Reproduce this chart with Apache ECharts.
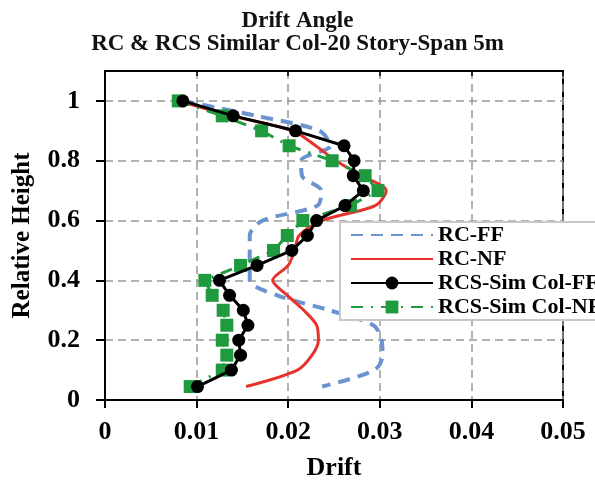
<!DOCTYPE html>
<html>
<head>
<meta charset="utf-8">
<script src="https://cdn.jsdelivr.net/npm/echarts@6/dist/echarts.min.js"></script>
<style>html,body{margin:0;padding:0;background:#fff}#c{width:595px;height:486px}</style>
</head>
<body>
<div id="c"></div>
<script>
const heights = [1.0,0.95,0.9,0.85,0.8,0.75,0.7,0.65,0.6,0.55,0.5,0.45,0.4,0.35,0.3,0.25,0.2,0.15,0.1,0.045];
const rcFF    = [0.0085,0.0165,0.0234,0.0246,0.0214,0.0215,0.0236,0.0232,0.0172,0.0158,0.0158,0.0158,0.0158,0.0188,0.0245,0.0293,0.0302,0.0303,0.0294,0.0237];
const rcNF    = [0.0080,0.0138,0.0205,0.0230,0.0252,0.0280,0.0307,0.0295,0.0237,0.0212,0.0207,0.0200,0.0183,0.0199,0.0217,0.0231,0.0233,0.0226,0.0210,0.0154];
const rcsFF   = [0.0085,0.0140,0.0208,0.0261,0.0272,0.0271,0.0282,0.0262,0.0231,0.0221,0.0204,0.0166,0.0125,0.0136,0.0151,0.0156,0.0146,0.0148,0.0138,0.0101];
const rcsNF   = [0.0080,0.0128,0.0171,0.0201,0.0248,0.0284,0.0298,0.0268,0.0216,0.0199,0.0184,0.0148,0.0109,0.0117,0.0129,0.0133,0.0128,0.0133,0.0128,0.0093];
const seriesNames = ['RC-FF','RC-NF','RCS-Sim Col-FF','RCS-Sim Col-NF'];
const xTickValues = [0,0.01,0.02,0.03,0.04,0.05];
const xTickLabels = ['0','0.01','0.02','0.03','0.04','0.05'];
const yTickValues = [0,0.2,0.4,0.6,0.8,1.0];
const yTickLabels = ['0','0.2','0.4','0.6','0.8','1'];
const titleLines = ['Drift Angle','RC & RCS Similar Col-20 Story-Span 5m'];

const pts = arr => arr.map((x,i)=>[x, heights[i]]);
const serif = 'Liberation Serif, Times New Roman, serif';
const lblX = v => { const i = xTickValues.findIndex(t=>Math.abs(t-v)<1e-9); return i<0?'':xTickLabels[i]; };
const lblY = v => { const i = yTickValues.findIndex(t=>Math.abs(t-v)<1e-9); return i<0?'':yTickLabels[i]; };

const chart = echarts.init(document.getElementById('c'), null, {renderer:'canvas'});
chart.setOption({
  animation:false,
  backgroundColor:'#fff',
  title:{text:titleLines.join('\n'), left:'center', top:5,
    textStyle:{fontFamily:serif, fontWeight:'bold', fontSize:23, lineHeight:23, color:'#111'}},
  grid:{left:105, right:32, top:71, bottom:79, show:true, borderColor:'#000', borderWidth:2, backgroundColor:'transparent'},
  xAxis:[{type:'value', min:0, max:0.05, interval:0.01,
    axisLine:{show:true, lineStyle:{color:'#000', width:2}},
    axisTick:{show:true, length:8, lineStyle:{color:'#000', width:2}},
    splitLine:{show:true, lineStyle:{color:'#999', type:[8,5], width:1.5}},
    axisLabel:{formatter:lblX, fontFamily:serif, fontWeight:'bold', fontSize:26, color:'#000', margin:19},
    name:'Drift', nameLocation:'middle', nameGap:55,
    nameTextStyle:{fontFamily:serif, fontWeight:'bold', fontSize:26, color:'#000'}},
   {type:'value', min:0, max:0.05, interval:0.01, position:'top',
    axisLine:{show:true, lineStyle:{color:'#000', width:2}},
    axisTick:{show:true, inside:true, length:5, lineStyle:{color:'#000', width:1.5}},
    splitLine:{show:false}, axisLabel:{show:false}}],
  yAxis:[{type:'value', min:0, max:1.1, interval:0.2,
    axisLine:{show:true, lineStyle:{color:'#000', width:2}},
    axisTick:{show:true, length:9, lineStyle:{color:'#000', width:2}, customValues:yTickValues},
    splitLine:{show:true, lineStyle:{color:'#999', type:[8,5], width:1.5}},
    axisLabel:{formatter:lblY, fontFamily:serif, fontWeight:'bold', fontSize:26, color:'#000', margin:25, customValues:yTickValues},
    name:'Relative Height', nameLocation:'middle', nameGap:70,
    nameTextStyle:{fontFamily:serif, fontWeight:'bold', fontSize:25, color:'#000'}}],
  legend:{orient:'vertical', left:340, top:222, itemWidth:82, itemHeight:16, itemGap:2,
    padding:[2,10,2,10], backgroundColor:'#fff', borderColor:'#c8c8c8', borderWidth:2,
    textStyle:{fontFamily:serif, fontWeight:'bold', fontSize:22, lineHeight:21, color:'#000'},
    data:[{name:seriesNames[0], itemStyle:{opacity:0}},
          {name:seriesNames[1], itemStyle:{opacity:0}},
          {name:seriesNames[2]},
          {name:seriesNames[3]}]},
  series:[
    {name:seriesNames[0], type:'line', data:pts(rcFF), symbol:'none', smooth:0.3, z:2,
     lineStyle:{color:'#6b93cf', width:4, type:[12,8]}, itemStyle:{color:'#6b93cf'}},
    {name:seriesNames[1], type:'line', data:pts(rcNF), symbol:'none', smooth:0.3, z:3,
     lineStyle:{color:'#e8312b', width:3}, itemStyle:{color:'#e8312b'}},
    {name:seriesNames[2], type:'line', data:pts(rcsFF), symbol:'circle', symbolSize:13, z:5,
     lineStyle:{color:'#000', width:3}, itemStyle:{color:'#000'}},
    {name:seriesNames[3], type:'line', data:pts(rcsNF), symbol:'rect', symbolSize:13, z:4,
     lineStyle:{color:'#1f9a3f', width:3, type:[12,8,2,8]}, itemStyle:{color:'#1f9a3f'}}
  ]
});
</script>
</body>
</html>
